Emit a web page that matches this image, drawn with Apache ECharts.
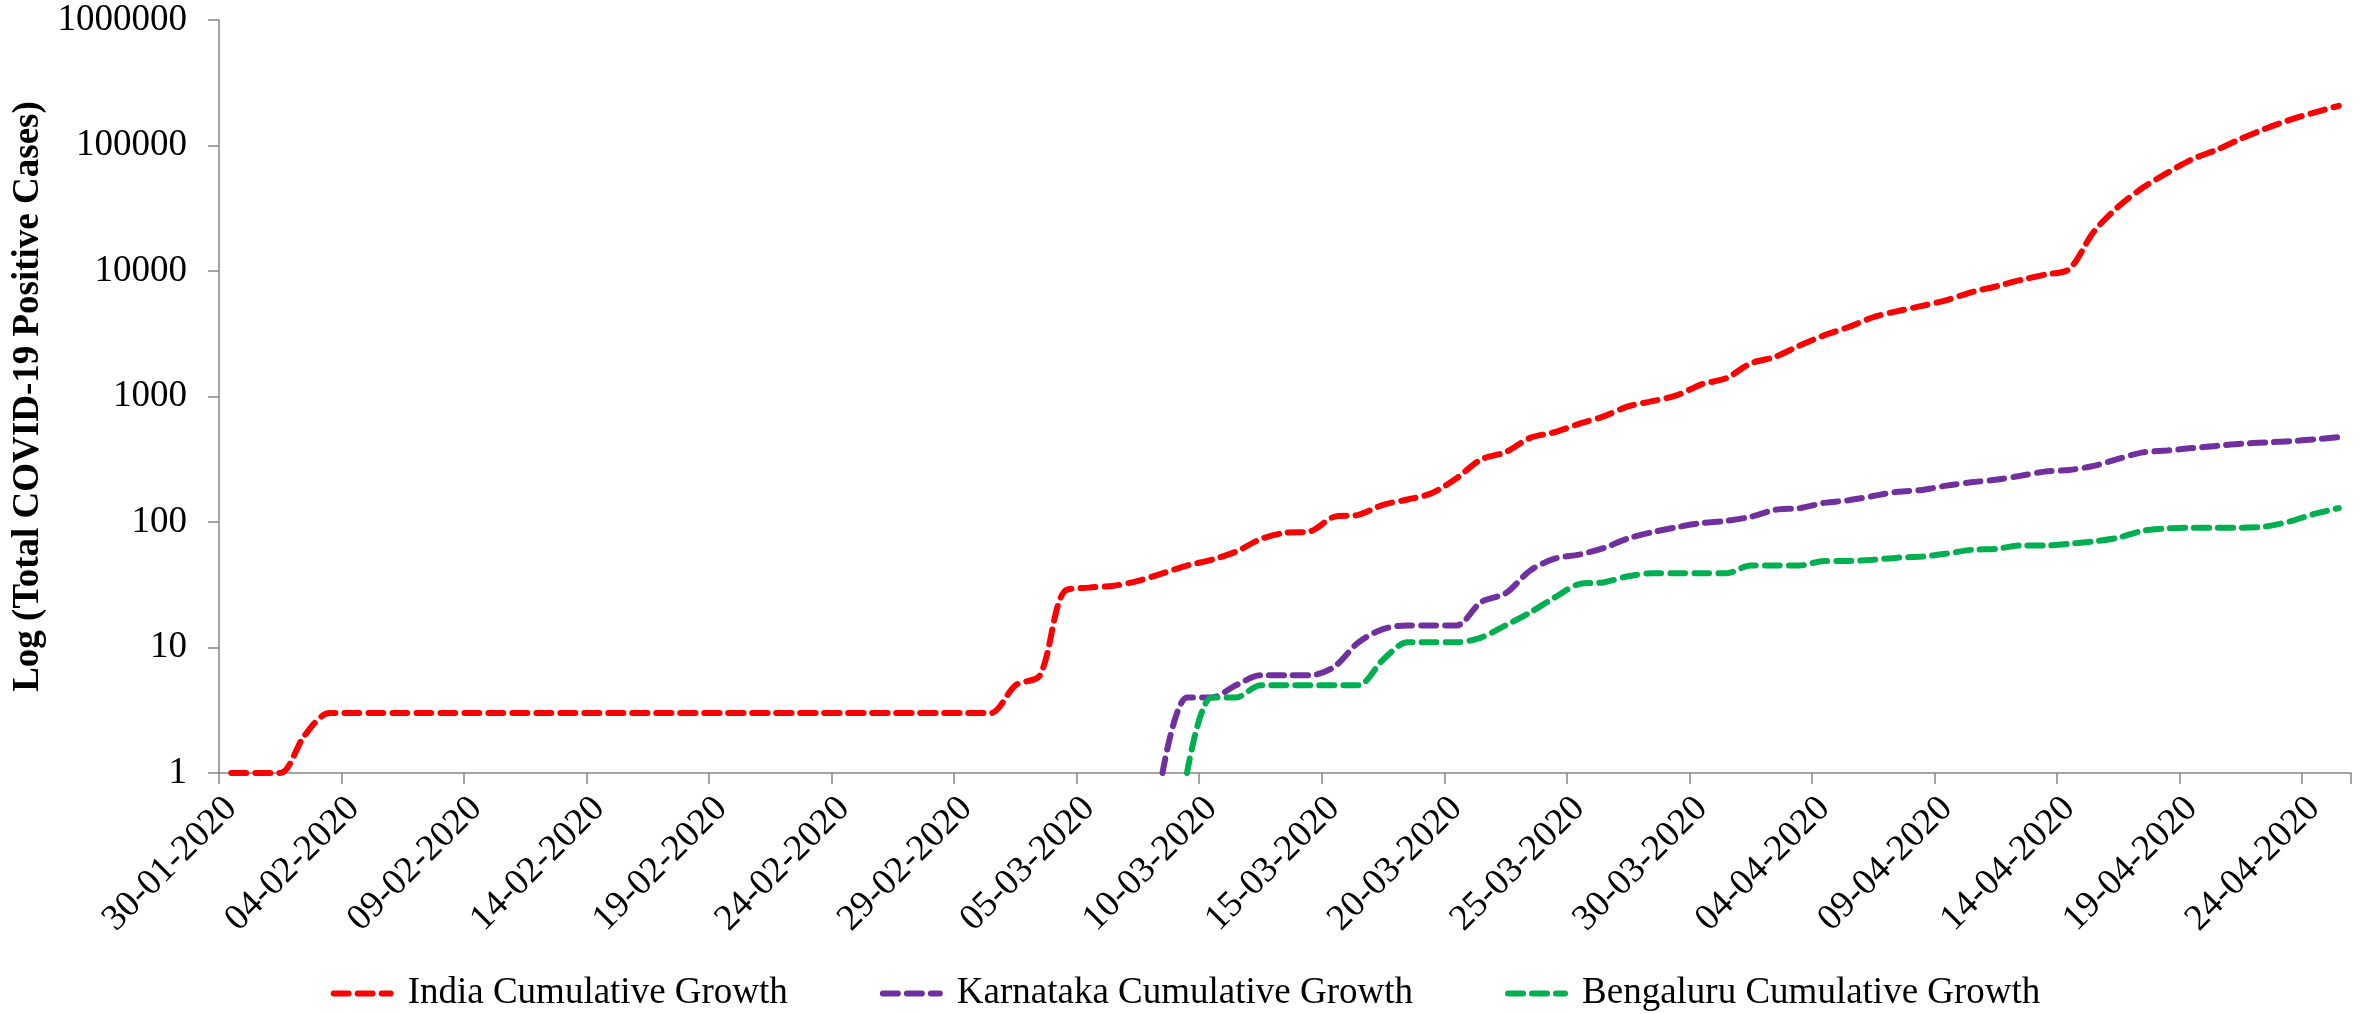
<!DOCTYPE html>
<html><head><meta charset="utf-8">
<script src="https://cdn.jsdelivr.net/npm/echarts@6/dist/echarts.min.js"></script>
<style>html,body{margin:0;padding:0;background:#fff}#c{width:2371px;height:1014px}</style>
</head><body><div id="c"></div>
<script>
const dates = [
'30-01-2020','31-01-2020',
'01-02-2020','02-02-2020','03-02-2020','04-02-2020','05-02-2020','06-02-2020','07-02-2020','08-02-2020','09-02-2020','10-02-2020',
'11-02-2020','12-02-2020','13-02-2020','14-02-2020','15-02-2020','16-02-2020','17-02-2020','18-02-2020','19-02-2020','20-02-2020',
'21-02-2020','22-02-2020','23-02-2020','24-02-2020','25-02-2020','26-02-2020','27-02-2020','28-02-2020','29-02-2020',
'01-03-2020','02-03-2020','03-03-2020','04-03-2020','05-03-2020','06-03-2020','07-03-2020','08-03-2020','09-03-2020','10-03-2020',
'11-03-2020','12-03-2020','13-03-2020','14-03-2020','15-03-2020','16-03-2020','17-03-2020','18-03-2020','19-03-2020','20-03-2020',
'21-03-2020','22-03-2020','23-03-2020','24-03-2020','25-03-2020','26-03-2020','27-03-2020','28-03-2020','29-03-2020','30-03-2020','31-03-2020',
'01-04-2020','02-04-2020','03-04-2020','04-04-2020','05-04-2020','06-04-2020','07-04-2020','08-04-2020','09-04-2020','10-04-2020',
'11-04-2020','12-04-2020','13-04-2020','14-04-2020','15-04-2020','16-04-2020','17-04-2020','18-04-2020','19-04-2020','20-04-2020',
'21-04-2020','22-04-2020','23-04-2020','24-04-2020','25-04-2020'
];

const india = [
1,1,1,2,3,3,3,3,3,3,
3,3,3,3,3,3,3,3,3,3,
3,3,3,3,3,3,3,3,3,3,
3,3,5,6,28,30,31,34,39,45,
50,58,73,82,84,110,114,137,151,170,
223,315,360,468,519,606,694,834,918,1024,
1251,1397,1834,2069,2547,3072,3577,4281,4789,5274,
5865,6761,7529,8447,9352,10363,20500,32500,46000,60500,
77500,92000,113000,136000,160000,183000,207000
];

const karnataka = [
null,null,null,null,null,null,null,null,null,null,
null,null,null,null,null,null,null,null,null,null,
null,null,null,null,null,null,null,null,null,null,
null,null,null,null,null,null,null,null,1,4,
4,5,6,6,6,7,11,14,15,15,
15,23,27,41,51,55,62,74,83,91,
98,102,110,125,129,142,149,161,174,180,
195,207,217,233,252,260,280,318,359,371,
388,404,420,430,440,456,474
];

const bengaluru = [
null,null,null,null,null,null,null,null,null,null,
null,null,null,null,null,null,null,null,null,null,
null,null,null,null,null,null,null,null,null,null,
null,null,null,null,null,null,null,null,null,1,
4,4,5,5,5,5,5,8,11,11,
11,12,15,19,25,32,33,37,39,39,
39,39,45,45,45,49,49,50,52,53,
56,60,61,65,65,67,70,75,85,89,
90,90,90,92,101,116,129
];

const seriesNames = ['India Cumulative Growth','Karnataka Cumulative Growth','Bengaluru Cumulative Growth'];
const seriesColors = ['#FF0000','#7030A0','#00B050'];
const seriesData = [india, karnataka, bengaluru];

const FONT = 'Liberation Serif';
const AXIS_GREY = '#868686';

const chart = echarts.init(document.getElementById('c'), null, {renderer:'canvas'});
chart.setOption({
  animation:false,
  backgroundColor:'#ffffff',
  grid:{left:219,right:20,top:20,bottom:241,containLabel:false},
  xAxis:{
    type:'category', data:dates, boundaryGap:true,
    axisLine:{show:true,lineStyle:{color:AXIS_GREY,width:1.5}},
    axisTick:{show:true,interval:4,length:11,lineStyle:{color:AXIS_GREY,width:1.5}},
    axisLabel:{interval:4,rotate:45,margin:30,fontFamily:FONT,fontSize:37,color:'#000'},
    splitLine:{show:false}
  },
  yAxis:{
    type:'log', logBase:10, min:1, max:1000000, splitNumber:6,
    name:'Log (Total COVID-19 Positive Cases)', nameLocation:'middle', nameGap:171,
    nameTextStyle:{fontFamily:FONT,fontSize:37,fontWeight:'bold',color:'#000'},
    axisLine:{show:true,lineStyle:{color:AXIS_GREY,width:1.5}},
    axisTick:{show:true,length:11,lineStyle:{color:AXIS_GREY,width:1.5}},
    splitLine:{show:false},
    axisLabel:{margin:32,fontFamily:FONT,fontSize:37,color:'#000',formatter:function(v){return String(Math.round(v));}}
  },
  legend:{
    data:seriesNames, top:970, left:'center',
    itemWidth:57, itemHeight:14, itemGap:92,
    itemStyle:{opacity:0},
    lineStyle:{width:6,type:[15,9],cap:'round'},
    textStyle:{fontFamily:FONT,fontSize:37,color:'#000',padding:[0,0,0,12]}
  },
  series:seriesNames.map(function(n,i){
    return {
      type:'line', name:n, data:seriesData[i], smooth:0.3,
      symbol:'none', showSymbol:false, connectNulls:false,
      lineStyle:{color:seriesColors[i],width:6,type:[15,9],cap:'round'},
      itemStyle:{color:seriesColors[i]}
    };
  })
});
</script></body></html>
